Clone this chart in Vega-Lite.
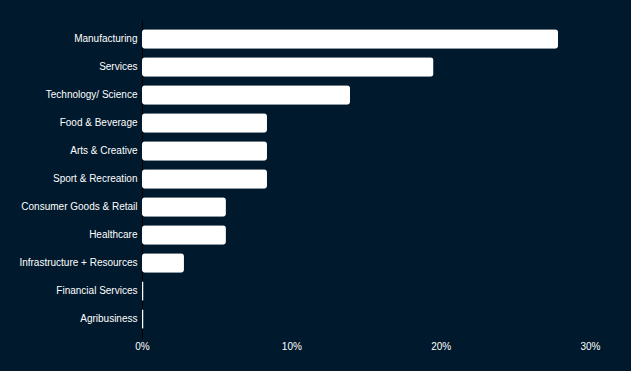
{
  "$schema": "https://vega.github.io/schema/vega-lite/v6.json",
  "autosize": "none",
  "width": 448,
  "height": 318,
  "padding": {"left": 142, "top": 20, "right": 41, "bottom": 33},
  "background": "#00192c",
  "config": {
    "view": {"stroke": null},
    "axis": {"labelFont": "Liberation Sans", "labelFontSize": 10, "labelColor": "#ffffff", "grid": false, "ticks": false, "title": null}
  },
  "data": {
    "values": [
      {"sector": "Manufacturing", "share": 0.2786},
      {"sector": "Services", "share": 0.1952},
      {"sector": "Technology/ Science", "share": 0.1393},
      {"sector": "Food & Beverage", "share": 0.0837},
      {"sector": "Arts & Creative", "share": 0.0837},
      {"sector": "Sport & Recreation", "share": 0.0837},
      {"sector": "Consumer Goods & Retail", "share": 0.0562},
      {"sector": "Healthcare", "share": 0.0562},
      {"sector": "Infrastructure + Resources", "share": 0.0281},
      {"sector": "Financial Services", "share": 0.001},
      {"sector": "Agribusiness", "share": 0.001}
    ]
  },
  "mark": {"type": "bar", "color": "#ffffff", "cornerRadius": 3},
  "encoding": {
    "y": {
      "field": "sector", "type": "nominal", "sort": null,
      "scale": {"paddingInner": 0.3, "paddingOuter": 0.33},
      "axis": {"domain": true, "domainColor": "#000000", "labelPadding": 5}
    },
    "x": {
      "field": "share", "type": "quantitative",
      "scale": {"domain": [0, 0.3], "nice": false},
      "axis": {"format": ".0%", "values": [0, 0.1, 0.2, 0.3], "domain": false, "labelPadding": 3, "labelFlush": false}
    }
  }
}
